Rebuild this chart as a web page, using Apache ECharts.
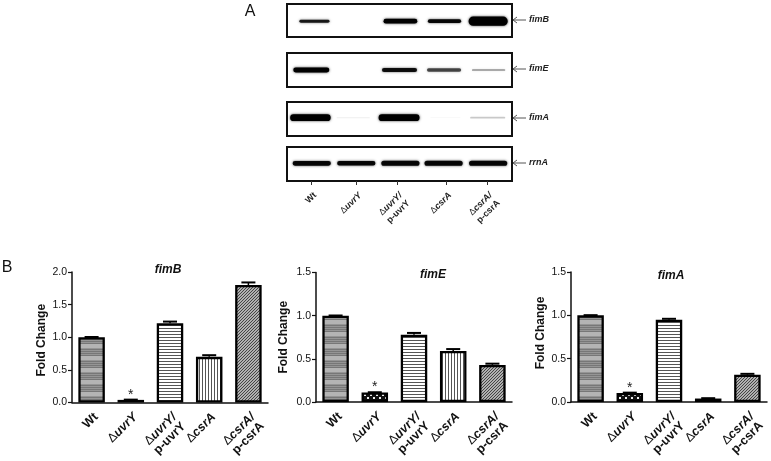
<!DOCTYPE html>
<html><head><meta charset="utf-8">
<style>html,body{margin:0;padding:0;background:#fff}#c{width:771px;height:461px;filter:blur(0.45px)}</style>
<script src="https://cdn.jsdelivr.net/npm/echarts@6/dist/echarts.min.js"></script>
</head><body><div id="c"></div>
<script>
// ---------- data ----------
const strains = ['Wt', 'ΔuvrY', 'ΔuvrY/\np-uvrY', 'ΔcsrA', 'ΔcsrA/\np-csrA'];
const fimBValues = [1.0, 0.04, 1.215, 0.70, 1.80];
const fimBErrors = [0.004, 0.004, 0.025, 0.025, 0.04];
const fimEValues = [1.0, 0.11, 0.78, 0.59, 0.43];
const fimEErrors = [0.002, 0.003, 0.02, 0.023, 0.014];
const fimAValues = [1.0, 0.105, 0.95, 0.04, 0.315];
const fimAErrors = [0.002, 0.003, 0.01, 0.004, 0.01];
const fimBMax = 2.0, fimEMax = 1.5, fimAMax = 1.5;

const laneTicks = [0.54, 1.54, 2.44, 3.54, 4.44];
const fimBLane = [0.61, 1.5, 2.52, 3.50, 4.47];
const fimBWidth = [0.67, 0, 0.75, 0.74, 0.87];
const fimBThick = [0.09, 0, 0.14, 0.11, 0.28];
const fimBDark = [0.85, 0, 1, 0.95, 1];
const fimELane = [0.54, 1.5, 2.50, 3.49, 4.48];
const fimEWidth = [0.8, 0, 0.78, 0.76, 0.74];
const fimEThick = [0.14, 0, 0.12, 0.1, 0.05];
const fimEDark = [1, 0, 0.9, 0.65, 0.4];
const fimALane = [0.52, 1.47, 2.49, 3.52, 4.46];
const fimAWidth = [0.9, 0.74, 0.91, 0.67, 0.78];
const fimAThick = [0.2, 0.03, 0.2, 0.02, 0.05];
const fimADark = [1, 0.07, 1, 0.03, 0.2];
const rrnALane = [0.55, 1.54, 2.52, 3.48, 4.47];
const rrnAWidth = [0.85, 0.85, 0.85, 0.85, 0.85];
const rrnAThick = [0.14, 0.13, 0.15, 0.15, 0.15];
const rrnADark = [0.95, 0.95, 0.95, 0.95, 0.95];

// ---------- patterns ----------
function tile(w, h, draw) {
  const c = document.createElement('canvas'); c.width = w; c.height = h;
  const g = c.getContext('2d'); g.fillStyle = '#fff'; g.fillRect(0, 0, w, h); draw(g);
  return { image: c, repeat: 'repeat' };
}
const patterns = [
  tile(2, 12, g => { // fine cross-hatch with moire bands
    for (let y = 0; y < 12; y++) {
      const light = y >= 8;
      g.fillStyle = light ? '#b4b4b4' : (y % 2 ? '#777' : '#959595');
      g.fillRect(0, y, 2, 1);
    }
  }),
  tile(6, 6, g => { // checker
    g.fillStyle = '#111'; g.fillRect(0, 0, 6, 6);
    g.fillStyle = '#eee'; g.fillRect(1, 1, 2, 2); g.fillRect(4, 4, 2, 2);
  }),
  tile(3, 3, g => { g.fillStyle = '#555'; g.fillRect(0, 1, 3, 1); }),
  tile(3, 3, g => { g.fillStyle = '#555'; g.fillRect(1, 0, 1, 3); }),
  tile(3, 3, g => {
    g.fillStyle = '#b0b0b0'; g.fillRect(0, 0, 3, 3);
    g.fillStyle = '#444';
    g.fillRect(2, 0, 1, 1); g.fillRect(1, 1, 1, 1); g.fillRect(0, 2, 1, 1);
  })
];

// ---------- helpers ----------
const FONT = '"Liberation Sans", Arial, sans-serif';
const grid = [], xAxis = [], yAxis = [], series = [];

function richLabel(name) {
  return name.split('\n').map(line => {
    const m = line.match(/^Δ(.*)$/);
    if (m) return '{d|Δ}{i|' + m[1] + '}';
    return '{b|' + line + '}';
  }).join('\n');
}
function laneLabel(v) {
  let best = 0;
  laneTicks.forEach((t, i) => { if (Math.abs(t - v) < Math.abs(laneTicks[best] - v)) best = i; });
  return richLabel(strains[best]);
}

function addBlot(top, height, lanes, widths, thick, dark, centre, isLast) {
  const k = grid.length;
  grid.push({ left: 287, width: 225, top, height, show: true, backgroundColor: '#fff',
    borderColor: '#111', borderWidth: 2 });
  xAxis.push({ gridIndex: k, type: 'value', min: 0, max: 5, splitLine: { show: false },
    axisLine: { show: false },
    axisTick: { show: !!isLast, length: 4, customValues: laneTicks, lineStyle: { color: '#333' } },
    axisLabel: isLast ? {
      show: true, customValues: laneTicks, rotate: 45, margin: 9, align: 'right', verticalAlign: 'top',
      lineHeight: 11,
      formatter: v => laneLabel(v),
      rich: {
        d: { fontFamily: FONT, fontSize: 9, color: '#222', lineHeight: 11 },
        i: { fontFamily: FONT, fontSize: 9, fontStyle: 'italic', fontWeight: 'bold', color: '#222', lineHeight: 11 },
        b: { fontFamily: FONT, fontSize: 9, fontWeight: 'bold', color: '#222', lineHeight: 11 }
      }
    } : { show: false } });
  yAxis.push({ gridIndex: k, type: 'value', min: 0, max: 1, show: false });
  series.push({
    type: 'custom', xAxisIndex: k, yAxisIndex: k, clip: false, animation: false,
    data: lanes.map((l, i) => [l, centre, widths[i], thick[i], dark[i]]),
    renderItem(p, api) {
      const x = api.value(0), y = api.value(1), w = api.value(2), t = api.value(3), d = api.value(4);
      if (!w || !d) return null;
      const a = api.coord([x - w / 2, y + t / 2]), b = api.coord([x + w / 2, y - t / 2]);
      const h = b[1] - a[1];
      return { type: 'rect', shape: { x: a[0], y: a[1], width: b[0] - a[0], height: h, r: h / 2 },
        style: { fill: 'rgba(0,0,0,' + d + ')', shadowBlur: 2.5, shadowColor: 'rgba(0,0,0,' + d * 0.8 + ')' } };
    }
  });
}

function addBars(left, top, height, values, errors, maxV, nameGap, namePad) {
  const k = grid.length;
  grid.push({ left, width: 196, top, height });
  xAxis.push({ gridIndex: k, type: 'category', data: strains,
    axisLine: { lineStyle: { color: '#111', width: 1.5 } },
    axisTick: { alignWithLabel: true, length: 4, lineStyle: { color: '#111', width: 1.2 } },
    axisLabel: { interval: 0, rotate: 45, margin: 8, lineHeight: 13, align: 'right', verticalAlign: 'top',
      formatter: v => richLabel(v),
      rich: {
        d: { fontFamily: FONT, fontSize: 12.5, color: '#111', lineHeight: 13 },
        i: { fontFamily: FONT, fontSize: 12.5, fontStyle: 'italic', fontWeight: 'bold', color: '#111', lineHeight: 13 },
        b: { fontFamily: FONT, fontSize: 12.5, fontWeight: 'bold', color: '#111', lineHeight: 13 }
      } } });
  yAxis.push({ gridIndex: k, type: 'value', min: 0, max: maxV, interval: 0.5,
    name: 'Fold Change', nameLocation: 'middle', nameGap,
    nameTextStyle: { fontFamily: FONT, fontSize: 12, fontWeight: 'bold', color: '#111', padding: namePad },
    splitLine: { show: false },
    axisLine: { show: true, lineStyle: { color: '#111', width: 1.5 } },
    axisTick: { show: true, length: 4, lineStyle: { color: '#111', width: 1.2 } },
    axisLabel: { fontFamily: FONT, fontSize: 10.5, color: '#111', margin: 5, formatter: v => v.toFixed(1) } });
  series.push({
    type: 'bar', xAxisIndex: k, yAxisIndex: k, barWidth: 26.5, animation: false,
    data: values.map((v, i) => ({
      value: v,
      itemStyle: { color: patterns[i], borderColor: '#000', borderWidth: 2.3 },
      label: i === 1 ? { show: true, position: 'top', distance: -2, formatter: '*', fontFamily: FONT, fontSize: 14, color: '#222' } : { show: false }
    }))
  });
  series.push({
    type: 'custom', xAxisIndex: k, yAxisIndex: k, animation: false, z: 3,
    data: values.map((v, i) => [i, v, errors[i]]),
    renderItem(p, api) {
      const i = api.value(0), v = api.value(1), e = api.value(2);
      const a = api.coord([i, v]), b = api.coord([i, v + e]);
      return { type: 'group', children: [
        { type: 'line', shape: { x1: a[0], y1: a[1], x2: b[0], y2: b[1] }, style: { stroke: '#000', lineWidth: 1.5 } },
        { type: 'line', shape: { x1: b[0] - 7, y1: b[1], x2: b[0] + 7, y2: b[1] }, style: { stroke: '#000', lineWidth: 2 } }
      ] };
    }
  });
}

addBlot(4, 33, fimBLane, fimBWidth, fimBThick, fimBDark, 0.48);
addBlot(53, 34, fimELane, fimEWidth, fimEThick, fimEDark, 0.5);
addBlot(102, 34, fimALane, fimAWidth, fimAThick, fimADark, 0.54);
addBlot(147, 34, rrnALane, rrnAWidth, rrnAThick, rrnADark, 0.52, true);
addBars(72, 272, 130.5, fimBValues, fimBErrors, fimBMax, 24, [0, 6, 0, 0]);
addBars(316, 272.5, 129.5, fimEValues, fimEErrors, fimEMax, 26, [0, 0, 0, 0]);
addBars(571, 272, 130, fimAValues, fimAErrors, fimAMax, 24, [0, 0, 0, 8]);

const txt = (text, left, top, size, extra) => ({ text, left, top, textAlign: 'center', padding: 0,
  textStyle: Object.assign({ fontFamily: FONT, fontSize: size, color: '#111', fontWeight: 'normal' }, extra || {}) });
const gene = { fontStyle: 'italic', fontWeight: 'bold' };
const title = [
  txt('A', 250, 4, 16), txt('B', 7, 260, 16),
  txt('fimB', 168, 264, 12, gene), txt('fimE', 433, 269, 12, gene), txt('fimA', 671, 270, 12, gene)
];
const geneRows = [['fimB', 20], ['fimE', 69], ['fimA', 118], ['rrnA', 163]];
const graphic = geneRows.map(r => ({
  type: 'group', silent: true, children: [
    { type: 'polyline', shape: { points: [[526, r[1]], [513, r[1]]] }, style: { stroke: '#555', lineWidth: 1, fill: null } },
    { type: 'polyline', shape: { points: [[517, r[1] - 3], [513, r[1]], [517, r[1] + 3]] }, style: { stroke: '#555', lineWidth: 1, fill: null } },
    { type: 'text', x: 529, y: r[1] - 5, style: { text: r[0], fontFamily: FONT, fontSize: 9, fontStyle: 'italic', fontWeight: 'bold', fill: '#222' } }
  ]
}));

const chart = echarts.init(document.getElementById('c'), null, { renderer: 'canvas' });
chart.setOption({ animation: false, backgroundColor: '#fff', title, grid, xAxis, yAxis, series, graphic });
</script></body></html>
